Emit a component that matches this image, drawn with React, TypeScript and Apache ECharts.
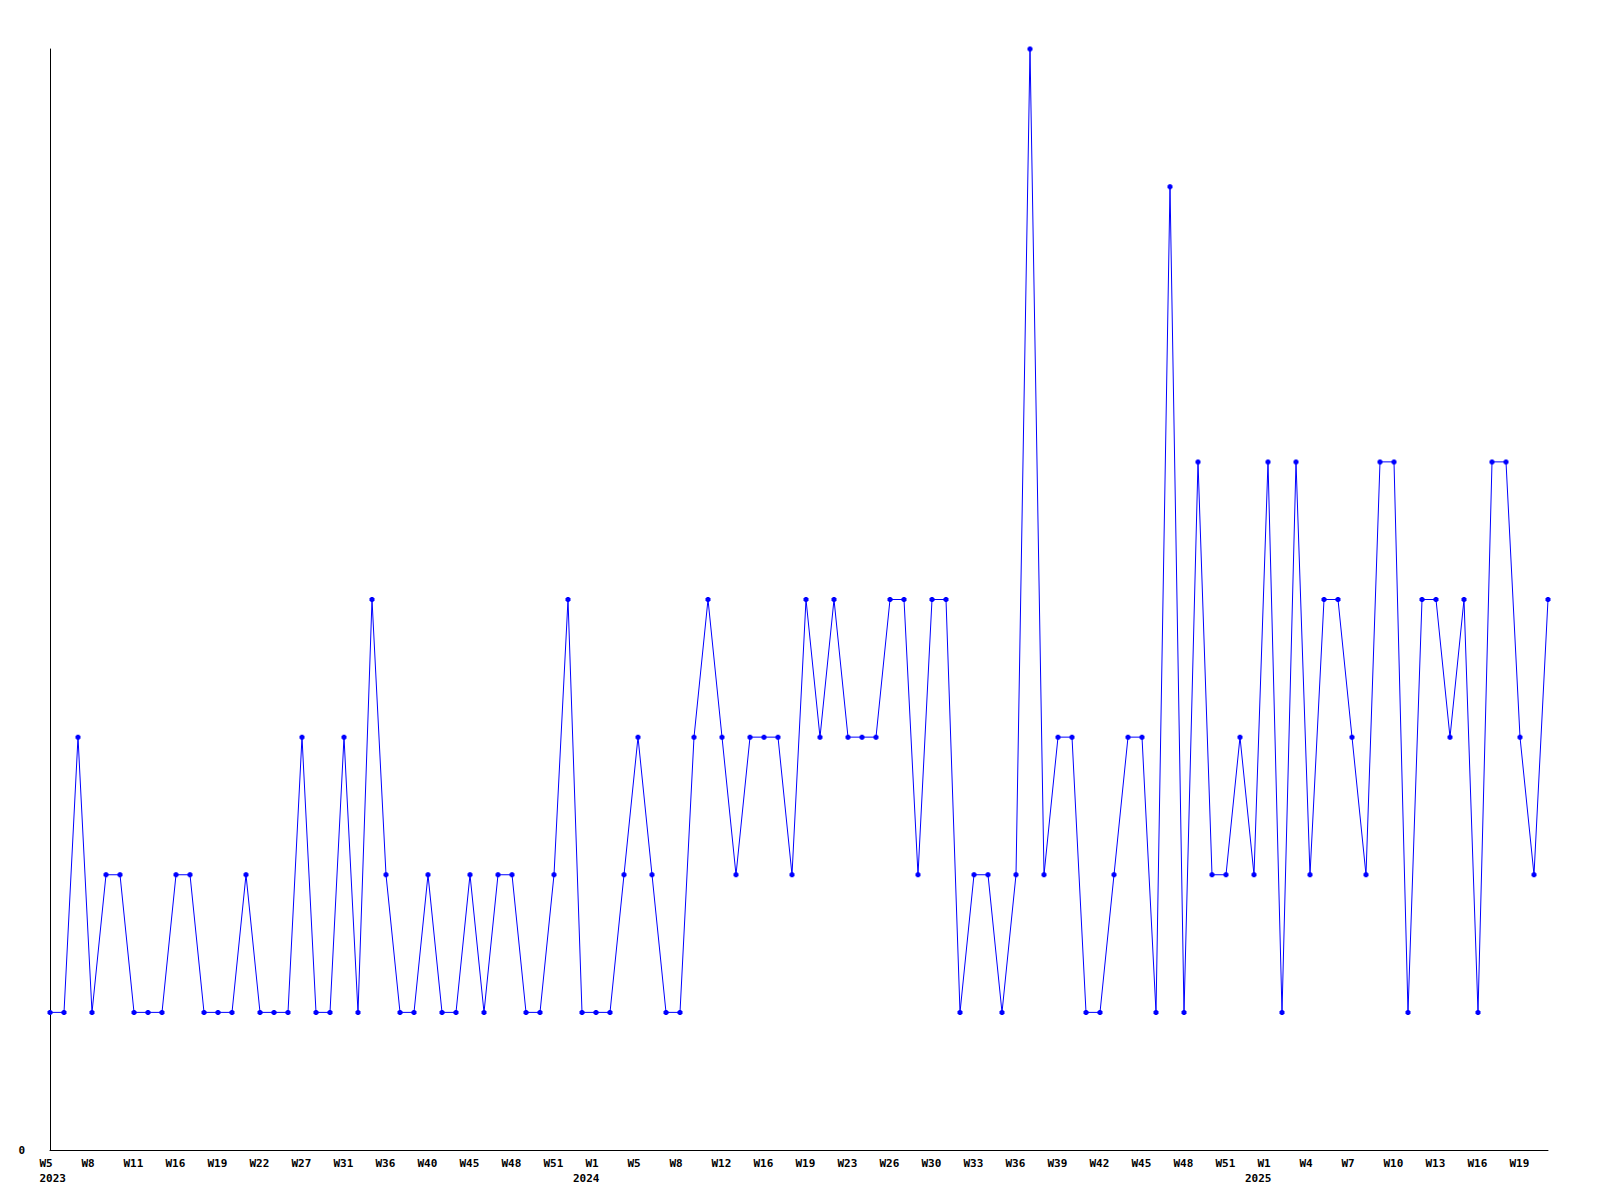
import React, { useEffect, useRef } from "react";
import * as echarts from "echarts";

const categories = [
  "2023-W5", "2023-W6", "2023-W7", "2023-W8", "2023-W9", "2023-W10", "2023-W11", "2023-W13", "2023-W14", "2023-W16",
  "2023-W17", "2023-W18", "2023-W19", "2023-W20", "2023-W21", "2023-W22", "2023-W24", "2023-W25", "2023-W27", "2023-W29",
  "2023-W30", "2023-W31", "2023-W33", "2023-W34", "2023-W36", "2023-W37", "2023-W38", "2023-W40", "2023-W42", "2023-W43",
  "2023-W45", "2023-W46", "2023-W47", "2023-W48", "2023-W49", "2023-W50", "2023-W51", "2023-W52", "2023-W53", "2024-W1",
  "2024-W2", "2024-W3", "2024-W5", "2024-W6", "2024-W7", "2024-W8", "2024-W10", "2024-W11", "2024-W12", "2024-W14",
  "2024-W15", "2024-W16", "2024-W17", "2024-W18", "2024-W19", "2024-W21", "2024-W22", "2024-W23", "2024-W24", "2024-W25",
  "2024-W26", "2024-W28", "2024-W29", "2024-W30", "2024-W31", "2024-W32", "2024-W33", "2024-W34", "2024-W35", "2024-W36",
  "2024-W37", "2024-W38", "2024-W39", "2024-W40", "2024-W41", "2024-W42", "2024-W43", "2024-W44", "2024-W45", "2024-W46",
  "2024-W47", "2024-W48", "2024-W49", "2024-W50", "2024-W51", "2024-W52", "2024-W53", "2025-W1", "2025-W2", "2025-W3",
  "2025-W4", "2025-W5", "2025-W6", "2025-W7", "2025-W8", "2025-W9", "2025-W10", "2025-W11", "2025-W12", "2025-W13",
  "2025-W14", "2025-W15", "2025-W16", "2025-W17", "2025-W18", "2025-W19", "2025-W20", "2025-W21",
];

const values = [
  1, 1, 3, 1, 2, 2, 1, 1, 1, 2,
  2, 1, 1, 1, 2, 1, 1, 1, 3, 1,
  1, 3, 1, 4, 2, 1, 1, 2, 1, 1,
  2, 1, 2, 2, 1, 1, 2, 4, 1, 1,
  1, 2, 3, 2, 1, 1, 3, 4, 3, 2,
  3, 3, 3, 2, 4, 3, 4, 3, 3, 3,
  4, 4, 2, 4, 4, 1, 2, 2, 1, 2,
  8, 2, 3, 3, 1, 1, 2, 3, 3, 1,
  7, 1, 5, 2, 2, 3, 2, 5, 1, 5,
  2, 4, 4, 3, 2, 5, 5, 1, 4, 4,
  3, 4, 1, 5, 5, 3, 2, 4,
];

const yTickLabels = ["0"];

const FONT = "DejaVu Sans Mono";
const baseText = {
  fontFamily: FONT,
  fontSize: 11,
  fontWeight: "bold",
  lineHeight: 15,
  color: "#000000",
};

export default function App() {
  const ref = useRef<HTMLDivElement>(null);

  useEffect(() => {
    if (!ref.current) return;
    const chart = echarts.init(ref.current, null, { renderer: "svg" });
    chart.setOption({
      animation: false,
      backgroundColor: "#ffffff",
      grid: { left: 50, right: 52, top: 49, bottom: 50, containLabel: false },
      xAxis: {
        type: "category",
        data: categories,
        boundaryGap: false,
        axisLine: { show: true, lineStyle: { color: "#000000", width: 1 } },
        axisTick: { show: false },
        splitLine: { show: false },
        axisLabel: {
          interval: 2,
          margin: 6,
          align: "center",
          formatter: (val: string, idx: number) => {
            const parts = val.split("-");
            const yr = parts[0];
            const wk = parts[1];
            if (idx === 0) return `{a|${wk}}\n{a|${yr}}`;
            if (wk === "W1") return `{a|${wk}}\n{y|${yr}}{s| }`;
            return `{a|${wk}}`;
          },
          rich: {
            a: { ...baseText, width: 21, align: "left" },
            y: { ...baseText, width: 14, align: "right" },
            s: { ...baseText, width: 7, align: "right" },
          },
        },
      },
      yAxis: {
        type: "value",
        min: 0,
        max: 8,
        interval: 8,
        axisLine: { show: true, lineStyle: { color: "#000000", width: 1 } },
        axisTick: { show: false },
        splitLine: { show: false },
        axisLabel: {
          margin: 25,
          fontFamily: FONT,
          fontSize: 11,
          fontWeight: "bold",
          color: "#000000",
          formatter: (v: number) => (v === 0 ? yTickLabels[0] : ""),
        },
      },
      series: [
        {
          type: "line",
          data: values,
          symbol: "path://M1,0h3v1h1v3h-1v1h-3v-1h-1v-3h1z",
          symbolSize: 5,
          showAllSymbol: true,
          lineStyle: { color: "#0000ff", width: 1 },
          itemStyle: { color: "#0000ff", borderWidth: 0 },
          emphasis: { disabled: true },
        },
      ],
    });
    return () => chart.dispose();
  }, []);

  return (
    <div
      ref={ref}
      style={{ position: "absolute", left: 0, top: 0, width: 1600, height: 1200, background: "#fff" }}
    />
  );
}
